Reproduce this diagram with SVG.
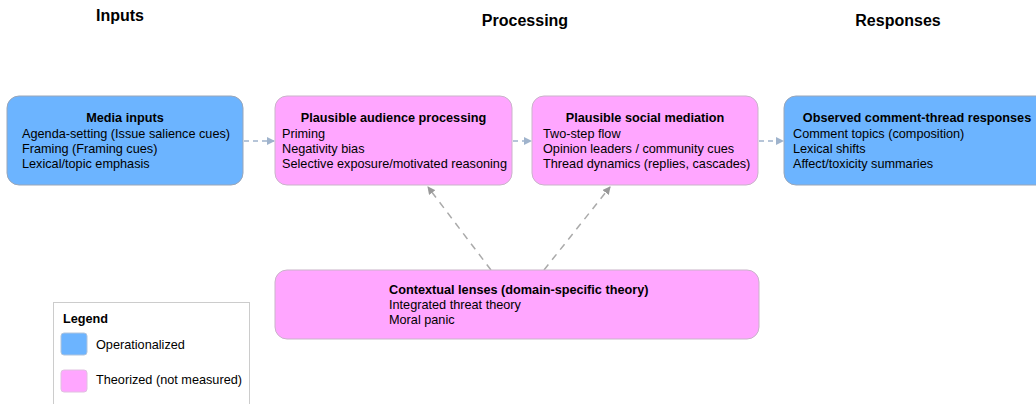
<svg xmlns="http://www.w3.org/2000/svg" width="1036" height="404" viewBox="0 0 1036 404">
<style>
  text { font-family: "Liberation Sans", Arial, sans-serif; fill: #000; }
  .hdr { font-size: 16px; font-weight: bold; text-anchor: middle; }
  .ttl { font-size: 12.7px; font-weight: bold; text-anchor: middle; }
  .ln { font-size: 12.7px; }
  .op { fill: #6cb4ff; stroke: #9aa6b8; stroke-width: 1; }
  .th { fill: #ffa6ff; stroke: #c9b3c9; stroke-width: 1; }
  .flow { stroke: #9fb3cc; stroke-width: 1.5; stroke-dasharray: 5 4; fill: none; }
  .ctx { stroke: #aaaaaa; stroke-width: 1.5; stroke-dasharray: 7 6; fill: none; }
</style>
<defs>
  <marker id="ab" markerWidth="8" markerHeight="8" refX="7" refY="4" orient="auto" markerUnits="userSpaceOnUse">
    <path d="M0,0 L8,4 L0,8 Z" fill="#9fb3cc"/>
  </marker>
  <marker id="ag" markerWidth="8" markerHeight="8" refX="7" refY="4" orient="auto" markerUnits="userSpaceOnUse">
    <path d="M0,0 L8,4 L0,8 Z" fill="#999999"/>
  </marker>
</defs>
<rect width="1036" height="404" fill="#ffffff"/>
<g id="headers">
  <text class="hdr" x="120" y="21">Inputs</text>
  <text class="hdr" x="525" y="26">Processing</text>
  <text class="hdr" x="898" y="26">Responses</text>
</g>
<g id="connectors">
  <line class="flow" x1="244" y1="141" x2="274" y2="141" marker-end="url(#ab)"/>
  <line class="flow" x1="513" y1="141" x2="531" y2="141" marker-end="url(#ab)"/>
  <line class="flow" x1="759" y1="141" x2="783" y2="141" marker-end="url(#ab)"/>
  <line class="ctx" x1="491" y1="270" x2="428" y2="187" marker-end="url(#ag)"/>
  <line class="ctx" x1="544" y1="270" x2="610" y2="187" marker-end="url(#ag)"/>
</g>
<g id="media-inputs">
  <rect class="op" x="7" y="96" width="236" height="89" rx="12"/>
  <text class="ttl" x="125" y="122">Media inputs</text>
  <text class="ln" x="22" y="137.5">Agenda-setting (Issue salience cues)</text>
  <text class="ln" x="22" y="152.5">Framing (Framing cues)</text>
  <text class="ln" x="22" y="167.5">Lexical/topic emphasis</text>
</g>
<g id="audience-processing">
  <rect class="th" x="275" y="96" width="237" height="89" rx="12"/>
  <text class="ttl" x="393.5" y="122">Plausible audience processing</text>
  <text class="ln" x="282" y="137.5">Priming</text>
  <text class="ln" x="282" y="152.5">Negativity bias</text>
  <text class="ln" x="282" y="167.5">Selective exposure/motivated reasoning</text>
</g>
<g id="social-mediation">
  <rect class="th" x="532" y="96" width="226" height="89" rx="12"/>
  <text class="ttl" x="645" y="122">Plausible social mediation</text>
  <text class="ln" x="543" y="137.5">Two-step flow</text>
  <text class="ln" x="543" y="152.5">Opinion leaders / community cues</text>
  <text class="ln" x="543" y="167.5">Thread dynamics (replies, cascades)</text>
</g>
<g id="observed-responses">
  <rect class="op" x="784" y="96" width="266" height="89" rx="12"/>
  <text class="ttl" x="917" y="122">Observed comment-thread responses</text>
  <text class="ln" x="793" y="137.5">Comment topics (composition)</text>
  <text class="ln" x="793" y="152.5">Lexical shifts</text>
  <text class="ln" x="793" y="167.5">Affect/toxicity summaries</text>
</g>
<g id="contextual-lenses">
  <rect class="th" x="275" y="270" width="484" height="69" rx="12"/>
  <text class="ttl" x="389" y="294" style="text-anchor:start">Contextual lenses (domain-specific theory)</text>
  <text class="ln" x="389" y="309">Integrated threat theory</text>
  <text class="ln" x="389" y="324">Moral panic</text>
</g>
<g id="legend">
  <rect x="53.5" y="302.5" width="196" height="110" fill="#ffffff" stroke="#cccccc" stroke-width="1"/>
  <text x="63" y="323" style="font-size:12.7px;font-weight:bold">Legend</text>
  <rect class="op" x="61" y="333" width="26" height="22" rx="3" style="stroke:#b0c4dc"/>
  <text class="ln" x="96" y="349">Operationalized</text>
  <rect class="th" x="61" y="370" width="26" height="22" rx="3" style="stroke:#e0c0e0"/>
  <text class="ln" x="96" y="384">Theorized (not measured)</text>
</g>
</svg>
